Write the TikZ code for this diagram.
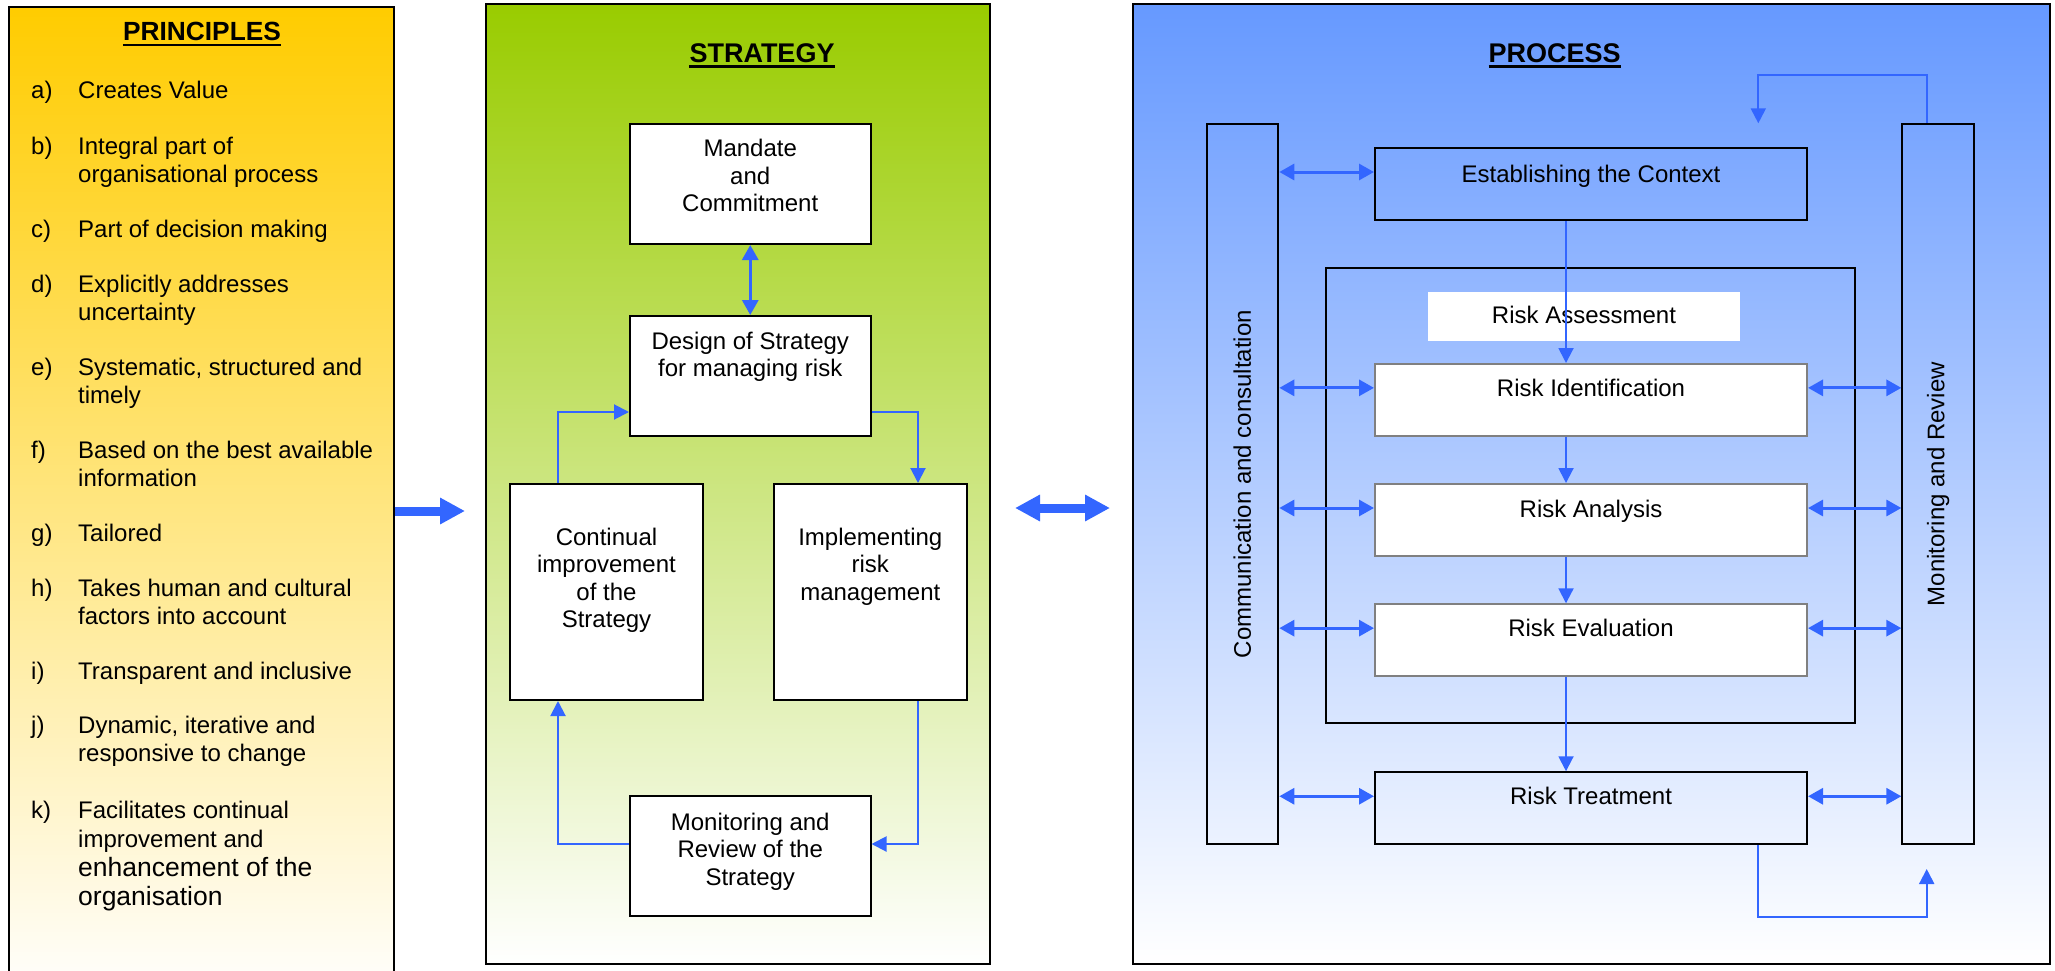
\documentclass[tikz,border=0pt]{standalone}
\usepackage{fontspec}
\usepackage{graphicx}
\setmainfont{Liberation Sans}
\usetikzlibrary{arrows.meta,calc}
\definecolor{ablue}{RGB}{51,102,255}
\definecolor{gold}{RGB}{255,204,0}
\definecolor{sgreen}{RGB}{153,204,0}
\definecolor{pblue}{RGB}{102,153,255}
\definecolor{bgray}{RGB}{128,128,128}
\newcommand{\mlc}[1]{\begin{tabular}[t]{@{}c@{}}#1\end{tabular}}
\newcommand{\mll}[1]{\begin{tabular}[t]{@{}l@{}}#1\end{tabular}}
\begin{document}
\begin{tikzpicture}[x=1pt,y=-1pt,
  box/.style={draw, line width=2pt, inner sep=0pt, rectangle},
  gbox/.style={draw=bgray, fill=white, line width=2pt, inner sep=0pt, rectangle},
  txt/.style={inner sep=0pt, anchor=base, font=\fontsize{24}{27.5}\selectfont},
  ptxt/.style={inner sep=0pt, anchor=base west, font=\fontsize{24}{28}\selectfont},
  ttl/.style={inner sep=0pt, anchor=base, font=\fontsize{27}{30}\selectfont\bfseries},
  uline/.style={line width=2.5pt},
  conn/.style={draw=ablue, line width=2pt, -{Triangle[length=15pt,width=15pt]}},
  dbl/.style={draw=ablue, line width=3pt, {Triangle[length=15pt,width=16pt]}-{Triangle[length=15pt,width=16pt]}},
  big/.style={draw=ablue, line width=9pt, -{Triangle[length=25pt,width=25pt]}},
  bigdbl/.style={draw=ablue, line width=9pt, {Triangle[length=25pt,width=25pt]}-{Triangle[length=25pt,width=25pt]}}
]
\useasboundingbox (0,0) rectangle (2055,971);
\fill[white] (0,0) rectangle (2055,971);
\clip (0,0) rectangle (2055,971);

% ---------- panels ----------
\node[box, top color=gold, middle color=gold!40!white, bottom color=white, minimum width=384.5pt, minimum height=993pt] (prin) at (201.25,503.5) {};
\node[box, top color=sgreen, middle color=sgreen!40!white, bottom color=white, minimum width=504pt, minimum height=960pt] (strat) at (738,484) {};
\node[box, top color=pblue, bottom color=white, minimum width=917pt, minimum height=960pt] (proc) at (1591.5,484) {};

% ---------- principles ----------
\node[ttl, font=\fontsize{26.3}{30}\selectfont\bfseries] (ptitle) at (202,40.7) {PRINCIPLES};
\draw[uline] ([yshift=-4.3pt]ptitle.base west) -- ([yshift=-4.3pt]ptitle.base east);

\node[ptxt] (la) at (31,99) {a)};  \node[ptxt] (ia) at (78,99) {Creates Value};
\node[ptxt] (lb) at (31,154) {b)}; \node[ptxt] (ib) at (78,154) {\mll{Integral part of\\organisational process}};
\node[ptxt] (lc) at (31,237) {c)}; \node[ptxt] (ic) at (78,237) {Part of decision making};
\node[ptxt] (ld) at (31,292) {d)}; \node[ptxt] (id) at (78,292) {\mll{Explicitly addresses\\uncertainty}};
\node[ptxt] (le) at (31,375) {e)}; \node[ptxt] (ie) at (78,375) {\mll{Systematic, structured and\\timely}};
\node[ptxt] (lf) at (31,458) {f)}; \node[ptxt] (if) at (78,458) {\mll{Based on the best available\\information}};
\node[ptxt] (lg) at (31,541) {g)}; \node[ptxt] (ig) at (78,541) {Tailored};
\node[ptxt] (lh) at (31,596) {h)}; \node[ptxt] (ih) at (78,596) {\mll{Takes human and cultural\\factors into account}};
\node[ptxt] (li) at (31,679) {i)}; \node[ptxt] (ii) at (78,679) {Transparent and inclusive};
\node[ptxt] (lj) at (31,733) {j)}; \node[ptxt] (ij) at (78,733) {\mll{Dynamic, iterative and\\responsive to change}};
\node[ptxt] (lk) at (31,818) {k)};
\node[ptxt, font=\fontsize{24}{29}\selectfont] (ik) at (78,818) {\mll{Facilitates continual\\improvement and\\\fontsize{26.5}{29}\selectfont enhancement of the\\\fontsize{26.5}{29}\selectfont organisation}};

% ---------- strategy ----------
\node[ttl] (stitle) at (762,63) {STRATEGY};
\draw[uline] ([yshift=-3.5pt]stitle.base west) -- ([yshift=-3.5pt]stitle.base east);

\node[box, fill=white, minimum width=240.5pt, minimum height=120pt] (mand) at (750.25,184) {};
\node[txt] (mandt) at (750.25,157) {\mlc{Mandate\\and\\Commitment}};
\node[box, fill=white, minimum width=240.5pt, minimum height=120pt] (design) at (750.25,376) {};
\node[txt] (designt) at (750.25,349) {\mlc{Design of Strategy\\for managing risk}};
\node[box, fill=white, minimum width=193pt, minimum height=216pt] (cont) at (606.5,592) {};
\node[txt] (contt) at (606.5,545) {\mlc{Continual\\improvement\\of the\\Strategy}};
\node[box, fill=white, minimum width=192.6pt, minimum height=216pt] (impl) at (870.3,592) {};
\node[txt] (implt) at (870.3,545) {\mlc{Implementing\\risk\\management}};
\node[box, fill=white, minimum width=240.5pt, minimum height=120pt] (monit) at (750.25,856) {};
\node[txt] (monitt) at (750.25,830) {\mlc{Monitoring and\\Review of the\\Strategy}};

\draw[dbl] (mand.south) -- (design.north);
\draw[conn] ([xshift=-48.5pt]cont.north) |- ([yshift=-36pt]design.west);
\draw[conn] ([yshift=-36pt]design.east) -| ([xshift=47.7pt]impl.north);
\draw[conn] ([xshift=47.7pt]impl.south) |- ([yshift=12pt]monit.east);
\draw[conn] ([yshift=12pt]monit.west) -| ([xshift=-48.5pt]cont.south);

% ---------- process ----------
\node[ttl] (prtitle) at (1554.7,63) {PROCESS};
\draw[uline] ([yshift=-3.5pt]prtitle.base west) -- ([yshift=-3.5pt]prtitle.base east);

\node[box, minimum width=71.8pt, minimum height=720pt] (comm) at (1242.4,484) {};
\node[txt, anchor=center, rotate=90] (commt) at (1242.4,484) {Communication and consultation};
\node[box, minimum width=71.7pt, minimum height=720pt] (mon) at (1938.2,484) {};
\node[txt, anchor=center, rotate=90] (mont) at (1938.2,484) {Monitoring and Review};

\node[box, minimum width=432pt, minimum height=72pt] (est) at (1591,184) {};
\node[txt] (estt) at (1591,182) {Establishing the Context};

\node[box, minimum width=528.6pt, minimum height=455.4pt] (assess) at (1590.3,495.7) {};
\node[fill=white, inner sep=0pt, minimum width=312pt, minimum height=49pt] (assessbox) at (1584,316.5) {};
\node[txt] (assesst) at (1584,323) {Risk Assessment};

\node[gbox, minimum width=432pt, minimum height=71.7pt] (ident) at (1591,399.85) {};
\node[txt] (identt) at (1591,396.7) {Risk Identification};
\node[gbox, minimum width=432pt, minimum height=72pt] (anal) at (1591,520) {};
\node[txt] (analt) at (1591,517) {Risk Analysis};
\node[gbox, minimum width=432pt, minimum height=71.7pt] (evalb) at (1591,640.15) {};
\node[txt] (evalt) at (1591,636.7) {Risk Evaluation};
\node[box, minimum width=432pt, minimum height=72pt] (treat) at (1591,808.25) {};
\node[txt] (treatt) at (1591,804.2) {Risk Treatment};

% vertical flow
\draw[conn] ([xshift=-25pt]est.south) -- ([xshift=-25pt]ident.north);
\draw[conn] ([xshift=-25pt]ident.south) -- ([xshift=-25pt]anal.north);
\draw[conn] ([xshift=-25pt]anal.south) -- ([xshift=-25pt]evalb.north);
\draw[conn] ([xshift=-25pt]evalb.south) -- ([xshift=-25pt]treat.north);

% horizontal double arrows
\foreach \b in {est,ident,anal,evalb,treat}{
  \coordinate (\b L) at ([yshift=12pt]\b.west);
  \draw[dbl] (comm.east |- \b L) -- (\b L);
}
\foreach \b in {ident,anal,evalb,treat}{
  \coordinate (\b R) at ([yshift=12pt]\b.east);
  \draw[dbl] (\b R) -- (mon.west |- \b R);
}

% loops
\coordinate (ltop) at (1758.3,123.3);
\draw[conn] ([xshift=-11.5pt]mon.north) -- ++(0,-47.6) -| (ltop);
\coordinate (lbot) at (1926.7,869);
\draw[conn] ([xshift=167.3pt]treat.south) -- ++(0,72) -| (lbot);

% ---------- big arrows between panels ----------
\coordinate (a1) at (465,511);
\draw[big] (prin.east |- a1) -- (a1);
\coordinate (b1) at (1015,508);
\coordinate (b2) at (1110,508);
\draw[bigdbl] (b1) -- (b2);
\end{tikzpicture}
\end{document}
